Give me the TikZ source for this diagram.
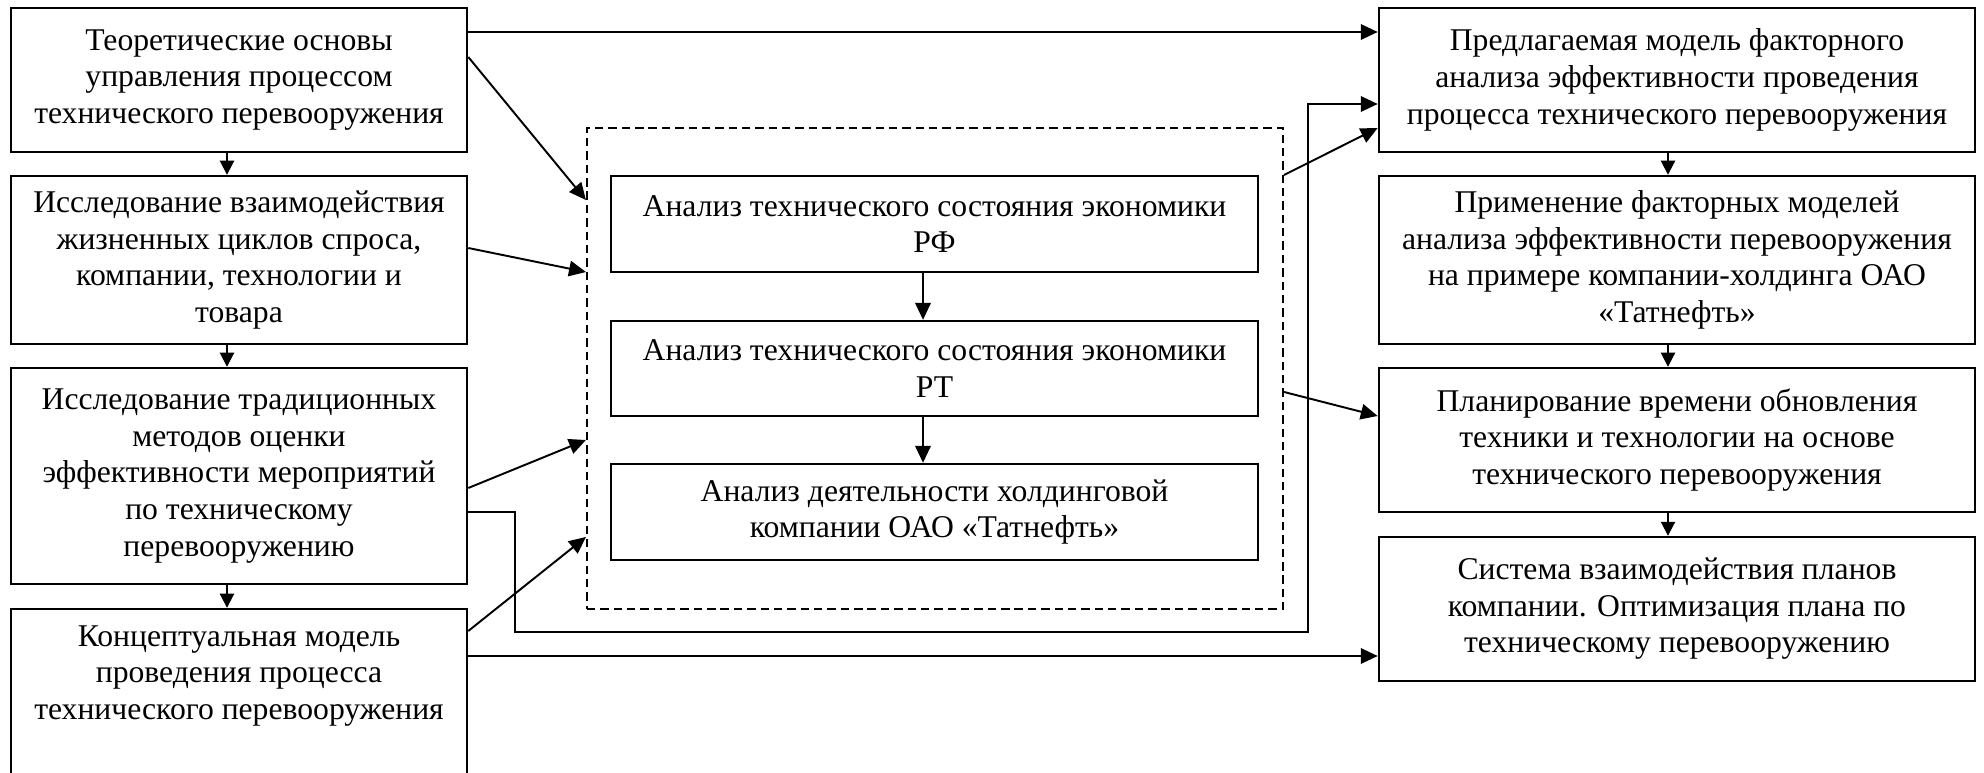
\documentclass[tikz,border=0pt]{standalone}
\usepackage{fontspec}
\setmainfont{Liberation Serif}
\usetikzlibrary{arrows.meta}
\tikzset{
  box/.style={draw, line width=0.65pt, rectangle, align=center, inner sep=0pt,
              font=\fontsize{9}{10.4}\selectfont},
  txt/.style={align=center, inner sep=0pt, font=\fontsize{9}{10.4}\selectfont},
  leftcol/.style={box, minimum width=4.56cm},
  rightcol/.style={box, minimum width=5.96cm},
  inner/.style={box, minimum width=6.47cm},
  group/.style={draw, dash pattern=on 2.4pt off 1.4pt, line width=0.5pt, rectangle, inner sep=0pt},
  arr/.style={line width=0.55pt, -{Triangle[length=4.8pt,width=4.4pt]}},
  shortarr/.style={line width=0.55pt, -{Triangle[length=4pt,width=4pt]}},
}
\begin{document}
\begin{tikzpicture}[x=0.01cm, y=-0.01cm]
\useasboundingbox (0,0) rectangle (1984,773);
\clip (0,0) rectangle (1984,773);

% left column
\node[leftcol, minimum height=1.44cm] (b1) at (239,80)
  {Теоретические основы\\управления процессом\\технического перевооружения};
\node[leftcol, minimum height=1.68cm] (b2) at (239,260)
  {Исследование взаимодействия\\жизненных циклов спроса,\\компании, технологии и\\товара};
\node[leftcol, minimum height=2.16cm] (b3) at (239,476)
  {Исследование традиционных\\методов оценки\\эффективности мероприятий\\по техническому\\перевооружению};
\node[leftcol, minimum height=2.0cm] (b4) at (239,709) {};
\node[txt] (b4text) at (239,676)
  {Концептуальная модель\\проведения процесса\\технического перевооружения};

% dashed group with the three analysis blocks
\node[group, minimum width=6.96cm, minimum height=4.81cm] (grp) at (935,368.5) {};
\node[inner, minimum height=0.96cm] (i1) at (934.5,224)
  {Анализ технического состояния экономики\\РФ};
\node[inner, minimum height=0.95cm] (i2) at (934.5,368.5)
  {Анализ технического состояния экономики\\РТ};
\node[inner, minimum height=0.96cm] (i3) at (934.5,512)
  {Анализ деятельности холдинговой\\компании ОАО «Татнефть»};

% right column
\node[rightcol, minimum height=1.44cm] (r1) at (1677,80)
  {Предлагаемая модель факторного\\анализа эффективности проведения\\процесса технического перевооружения};
\node[rightcol, minimum height=1.68cm] (r2) at (1677,260)
  {Применение факторных моделей\\анализа эффективности перевооружения\\на примере компании-холдинга ОАО\\«Татнефть»};
\node[rightcol, minimum height=1.44cm] (r3) at (1677,440)
  {Планирование времени обновления\\техники и технологии на основе\\технического перевооружения};
\node[rightcol, minimum height=1.44cm] (r4) at (1677,609)
  {Система взаимодействия планов\\компании. Оптимизация плана по\\техническому перевооружению};

% vertical flow inside columns
\draw[shortarr] (b1.south -| 227,0) -- (b2.north -| 227,0);
\draw[shortarr] (b2.south -| 227,0) -- (b3.north -| 227,0);
\draw[shortarr] (b3.south -| 227,0) -- (b4.north -| 227,0);
\draw[arr] (i1.south -| 923,0) -- (i2.north -| 923,0);
\draw[arr] (i2.south -| 923,0) -- (i3.north -| 923,0);
\draw[shortarr] (r1.south -| 1668,0) -- (r2.north -| 1668,0);
\draw[shortarr] (r2.south -| 1668,0) -- (r3.north -| 1668,0);
\draw[shortarr] (r3.south -| 1668,0) -- (r4.north -| 1668,0);

% links from the left column
\draw[arr] (b1.east |- 0,32) -- (r1.west |- 0,32);
\draw[arr] (b1.east |- 0,57) -- (grp.west |- 0,200);
\draw[arr] (b2.east |- 0,248) -- (grp.west |- 0,272);
\draw[arr] (b3.east |- 0,488) -- (grp.west |- 0,440);
\draw[arr] (b4.east |- 0,631) -- (grp.west |- 0,537);
\draw[arr] (b4.east |- 0,656) -- (r4.west |- 0,656);
\coordinate (loopA) at (515,632);
\coordinate (loopB) at (1308,632);
\draw[arr] (b3.east |- 0,512) -| (loopA) -- (loopB) |- (r1.west |- 0,104);

% links from the analysis group
\draw[arr] (grp.east |- 0,175) -- (r1.west |- 0,128);
\draw[arr] (grp.east |- 0,392) -- (r3.west |- 0,416);
\end{tikzpicture}
\end{document}
